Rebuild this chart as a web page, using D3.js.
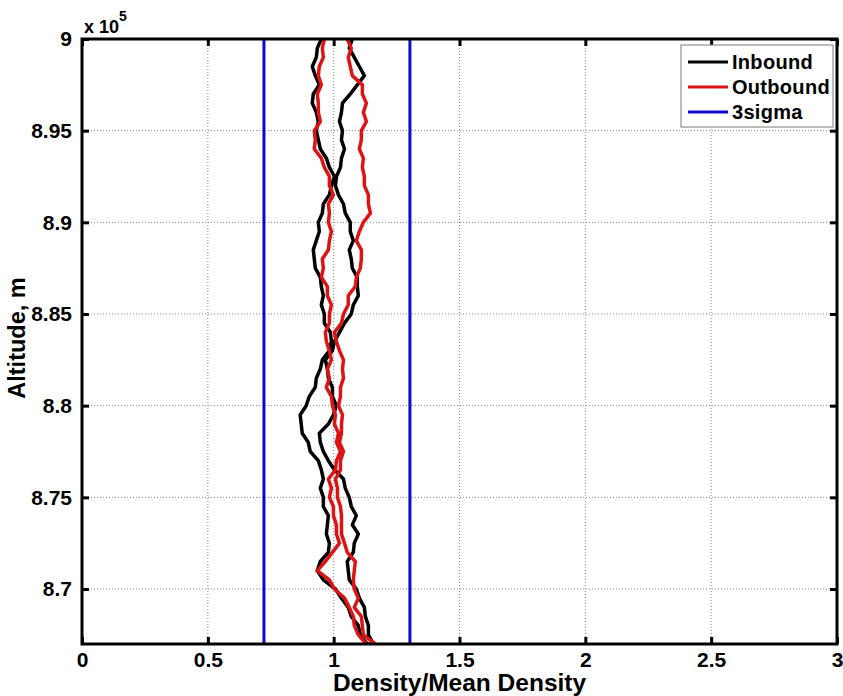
<!DOCTYPE html>
<html>
<head>
<meta charset="utf-8">
<script src="https://cdn.jsdelivr.net/npm/d3@7"></script>
<style>
  html, body { margin: 0; padding: 0; background: #fff; }
  svg { display: block; }
  text { font-family: "Liberation Sans", Arial, Helvetica, sans-serif; font-weight: bold; fill: #000; }
</style>
</head>
<body>
<svg id="chart" width="843" height="696"></svg>
<script>
// ---- data ----
const altitude = [900000, 899500, 899000, 898500, 898000, 897500, 897000, 896500, 896000, 895500,
  895000, 894500, 894000, 893500, 893000, 892500, 892000, 891500, 891000, 890500,
  890000, 889500, 889000, 888500, 888000, 887500, 887000, 886500, 886000, 885500,
  885000, 884500, 884000, 883500, 883000, 882500, 882000, 881500, 881000, 880500,
  880000, 879500, 879000, 878500, 878000, 877500, 877000, 876500, 876000, 875500,
  875000, 874500, 874000, 873500, 873000, 872500, 872000, 871500, 871000, 870500,
  870000, 869500, 869000, 868500, 868000, 867500, 867000];

const inboundA = [0.951, 0.935, 0.931, 0.915, 0.927, 0.943, 0.919, 0.915, 0.931, 0.939,
  0.931, 0.939, 0.947, 0.971, 0.983, 1.003, 0.991, 0.983, 0.959, 0.955,
  0.939, 0.943, 0.931, 0.919, 0.923, 0.927, 0.947, 0.951, 0.959, 0.951,
  0.963, 0.963, 0.987, 0.991, 0.983, 0.955, 0.947, 0.931, 0.927, 0.903,
  0.891, 0.867, 0.871, 0.875, 0.899, 0.907, 0.939, 0.951, 0.959, 0.947,
  0.959, 0.959, 0.979, 0.975, 0.971, 0.983, 0.979, 0.947, 0.935, 0.959,
  1.007, 1.031, 1.058, 1.070, 1.098, 1.106, 1.134];

const inboundB = [1.074, 1.062, 1.082, 1.102, 1.122, 1.094, 1.066, 1.035, 1.031, 1.023,
  1.035, 1.031, 1.043, 1.031, 1.027, 1.011, 1.007, 1.019, 1.039, 1.046,
  1.066, 1.066, 1.078, 1.062, 1.070, 1.074, 1.094, 1.094, 1.098, 1.078,
  1.070, 1.043, 1.023, 1.003, 0.995, 0.967, 0.975, 0.979, 0.995, 0.995,
  1.011, 0.999, 0.979, 0.943, 0.947, 0.959, 0.979, 1.003, 1.039, 1.046,
  1.062, 1.070, 1.090, 1.074, 1.098, 1.082, 1.078, 1.054, 1.058, 1.062,
  1.090, 1.102, 1.122, 1.126, 1.138, 1.138, 1.158];

const outboundA = [0.963, 0.955, 0.959, 0.943, 0.939, 0.951, 0.935, 0.939, 0.939, 0.947,
  0.923, 0.927, 0.923, 0.951, 0.963, 0.983, 0.983, 0.999, 0.979, 0.983,
  0.979, 0.991, 0.983, 0.979, 0.955, 0.959, 0.951, 0.975, 0.975, 0.991,
  0.983, 0.983, 0.967, 0.971, 0.983, 0.991, 0.975, 0.983, 0.971, 0.991,
  0.995, 1.007, 1.003, 1.019, 1.011, 1.027, 1.011, 1.007, 0.979, 0.991,
  0.983, 0.999, 0.999, 1.011, 1.011, 1.023, 0.995, 0.967, 0.935, 0.983,
  1.003, 1.043, 1.062, 1.078, 1.082, 1.098, 1.130];

const outboundB = [1.054, 1.070, 1.058, 1.066, 1.074, 1.114, 1.114, 1.130, 1.118, 1.130,
  1.110, 1.110, 1.102, 1.118, 1.114, 1.122, 1.122, 1.138, 1.138, 1.146,
  1.118, 1.102, 1.090, 1.110, 1.110, 1.106, 1.090, 1.086, 1.058, 1.058,
  1.039, 1.031, 1.003, 1.011, 1.023, 1.039, 1.035, 1.039, 1.027, 1.027,
  1.019, 1.035, 1.031, 1.031, 1.023, 1.039, 1.027, 1.027, 1.007, 1.015,
  1.015, 1.027, 1.031, 1.031, 1.031, 1.043, 1.054, 1.086, 1.082, 1.078,
  1.082, 1.098, 1.082, 1.110, 1.114, 1.118, 1.166];

const sigmaBounds = [0.723, 1.303];
const xTicks = [0, 0.5, 1, 1.5, 2, 2.5, 3];
const xTickLabels = ["0", "0.5", "1", "1.5", "2", "2.5", "3"];
const yTicks = [870000, 875000, 880000, 885000, 890000, 895000, 900000];
const yTickLabels = ["8.7", "8.75", "8.8", "8.85", "8.9", "8.95", "9"];
const legendNames = ["Inbound", "Outbound", "3sigma"];
const legendColors = ["#000000", "#dd1414", "#0c0cc8"];

// ---- layout ----
const margin = { left: 82, top: 39, right: 837, bottom: 644 };
const svg = d3.select("#chart");
const x = d3.scaleLinear().domain([0, 3]).range([margin.left, margin.right]);
const y = d3.scaleLinear().domain([867000, 900000]).range([margin.bottom, margin.top]);

svg.append("defs").append("clipPath").attr("id", "clip")
  .append("rect").attr("x", margin.left).attr("y", margin.top)
  .attr("width", margin.right - margin.left).attr("height", margin.bottom - margin.top);

// grid
const grid = svg.append("g");
grid.selectAll("line.gx").data(xTicks.slice(1, -1)).join("line")
  .attr("x1", d => x(d)).attr("x2", d => x(d))
  .attr("y1", margin.top).attr("y2", margin.bottom)
  .attr("stroke", "#8a8a8a").attr("stroke-width", 1).attr("stroke-dasharray", "1,2");
grid.selectAll("line.gy").data(yTicks.slice(0, -1)).join("line")
  .attr("y1", d => y(d)).attr("y2", d => y(d))
  .attr("x1", margin.left).attr("x2", margin.right)
  .attr("stroke", "#8a8a8a").attr("stroke-width", 1).attr("stroke-dasharray", "1,2");

// data lines
const plot = svg.append("g").attr("clip-path", "url(#clip)");
const line = d3.line().x(d => x(d[0])).y(d => y(d[1]));
function loop(a, b) {
  const down = altitude.map((alt, i) => [a[i], alt]);
  const up = altitude.map((alt, i) => [b[i], alt]).reverse();
  return down.concat(up);
}
const series = [
  { pts: loop(inboundA, inboundB), color: legendColors[0] },
  { pts: loop(outboundA, outboundB), color: legendColors[1] }
];
plot.selectAll("path.series").data(series).join("path")
  .attr("d", d => line(d.pts))
  .attr("fill", "none").attr("stroke", d => d.color)
  .attr("stroke-width", 3.5).attr("stroke-linejoin", "round");

plot.selectAll("line.sigma").data(sigmaBounds).join("line")
  .attr("x1", d => x(d)).attr("x2", d => x(d))
  .attr("y1", margin.top).attr("y2", margin.bottom)
  .attr("stroke", legendColors[2]).attr("stroke-width", 3);

// axes
const tickLen = 7;
const axB = svg.append("g").attr("transform", `translate(0,${margin.bottom})`)
  .call(d3.axisBottom(x).tickValues(xTicks).tickFormat((d, i) => xTickLabels[i]).tickSizeInner(-tickLen).tickSizeOuter(0).tickPadding(8));
const axT = svg.append("g").attr("transform", `translate(0,${margin.top})`)
  .call(d3.axisTop(x).tickValues(xTicks).tickFormat("").tickSizeInner(-tickLen).tickSizeOuter(0));
const axL = svg.append("g").attr("transform", `translate(${margin.left},0)`)
  .call(d3.axisLeft(y).tickValues(yTicks).tickFormat((d, i) => yTickLabels[i]).tickSizeInner(-tickLen).tickSizeOuter(0).tickPadding(10));
const axR = svg.append("g").attr("transform", `translate(${margin.right},0)`)
  .call(d3.axisRight(y).tickValues(yTicks).tickFormat("").tickSizeInner(-tickLen).tickSizeOuter(0));
[axB, axT, axL, axR].forEach(g => {
  g.select(".domain").remove();
  g.selectAll(".tick line").attr("stroke", "#000").attr("stroke-width", 3);
  g.selectAll(".tick text").attr("font-size", 21).attr("letter-spacing", 0)
    .attr("font-family", "'Liberation Sans', Arial, sans-serif").attr("font-weight", "bold").attr("fill", "#000");
});
svg.append("rect").attr("x", margin.left).attr("y", margin.top)
  .attr("width", margin.right - margin.left).attr("height", margin.bottom - margin.top)
  .attr("fill", "none").attr("stroke", "#000").attr("stroke-width", 3);

// exponent label
const ex = svg.append("text").attr("x", 84).attr("y", 33).attr("font-size", 18);
ex.append("tspan").text("x 10");
ex.append("tspan").attr("dy", -12).attr("font-size", 14).text("5");

// axis labels
svg.append("text").attr("x", (margin.left + margin.right) / 2).attr("y", 691)
  .attr("text-anchor", "middle").attr("font-size", 24.5)
  .text("Density/Mean Density");
svg.append("text").attr("transform", "translate(25,338) rotate(-90)")
  .attr("text-anchor", "middle").attr("font-size", 23.5)
  .text("Altitude, m");

// legend
const lg = svg.append("g");
lg.append("rect").attr("x", 681).attr("y", 45).attr("width", 152).attr("height", 82)
  .attr("fill", "#fff").attr("stroke", "#7a7a7a").attr("stroke-width", 1);
legendNames.forEach((n, i) => {
  const cy = 62 + i * 25;
  lg.append("line").attr("x1", 688).attr("x2", 728).attr("y1", cy).attr("y2", cy)
    .attr("stroke", legendColors[i]).attr("stroke-width", 3);
  lg.append("text").attr("x", 732).attr("y", cy + 7).attr("font-size", 20).attr("letter-spacing", 0.3).text(n);
});
</script>
</body>
</html>
